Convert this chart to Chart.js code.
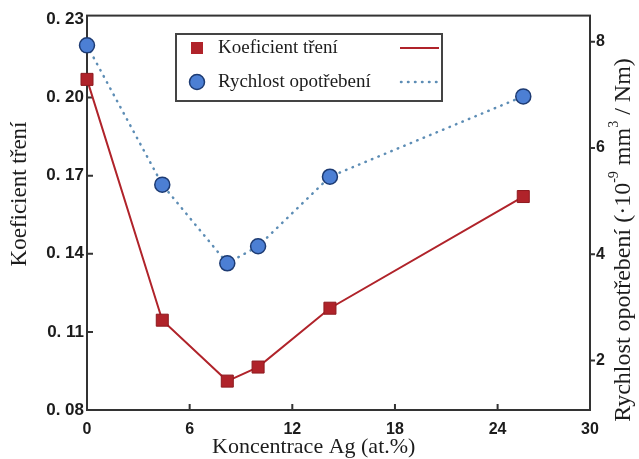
<!DOCTYPE html>
<html>
<head>
<meta charset="utf-8">
<script src="https://cdn.jsdelivr.net/npm/chart.js@4.4.0/dist/chart.umd.min.js"></script>
<style>
  html, body { margin: 0; padding: 0; background: #fff; }
  canvas { display: block; }
</style>
</head>
<body>
<canvas id="c" width="639" height="459"></canvas>
<script>
// Ag concentration (at.%) of the tested coatings
const agConcentration = [0, 4.4, 8.2, 10.0, 14.2, 25.5];
// Friction coefficient (left axis)
const frictionCoef = [0.207, 0.1145, 0.0911, 0.0965, 0.1191, 0.162];
// Wear rate, 10^-9 mm^3 / Nm (right axis)
const wearRate = [7.93, 5.31, 3.83, 4.15, 5.46, 6.97];

// Tick values / labels
const xTicks = [0, 6, 12, 18, 24, 30];
const frictionTicks = [0.08, 0.11, 0.14, 0.17, 0.20, 0.23];
const wearTicks = [2, 4, 6, 8];

const xMax = 29.4;
const frictionMin = 0.08, frictionMax = 0.2315;
const wearMin = 1.07, wearMax = 8.49;

const SERIF = "'Liberation Serif', 'Times New Roman', serif";
const SANS = "'Liberation Sans', Arial, sans-serif";
const tickFont = { family: SANS, size: 16, weight: 'bold' };
const INK = '#1c1c1c';

const RED = '#b0232a';
const BLUE_FILL = '#4c7fd4';
const BLUE_EDGE = '#1d3b73';
const BLUE_LINE = '#5d8db5';

// Frame and tick marks (left/bottom inward, right outward)
const framePlugin = {
  id: 'frame',
  beforeDatasetsDraw(chart) {
    const { ctx, chartArea: a, scales } = chart;
    ctx.save();
    ctx.strokeStyle = '#333';
    ctx.lineWidth = 2;
    ctx.strokeRect(a.left, a.top, a.right - a.left, a.bottom - a.top);
    ctx.beginPath();
    frictionTicks.forEach(v => {
      if (v <= frictionMin || v >= 0.23) return;
      const y = scales.y.getPixelForValue(v);
      ctx.moveTo(a.left, y); ctx.lineTo(a.left + 6, y);
    });
    xTicks.forEach(v => {
      if (v <= 0 || v >= xMax) return;
      const x = scales.x.getPixelForValue(v);
      ctx.moveTo(x, a.bottom); ctx.lineTo(x, a.bottom - 6);
    });
    wearTicks.forEach(v => {
      const y = scales.y1.getPixelForValue(v);
      ctx.moveTo(a.right, y); ctx.lineTo(a.right + 5, y);
    });
    ctx.stroke();
    ctx.restore();
  }
};

// Axis titles and the framed legend
const annotatePlugin = {
  id: 'annotate',
  afterDraw(chart) {
    const { ctx } = chart;
    ctx.save();
    ctx.fillStyle = INK;
    ctx.textBaseline = 'middle';

    // x title
    ctx.font = `22px ${SERIF}`;
    ctx.textAlign = 'left';
    ctx.fillText('Koncentrace Ag (at.%)', 212, 447);

    // left title
    ctx.save();
    ctx.translate(20, 194);
    ctx.rotate(-Math.PI / 2);
    ctx.textAlign = 'center';
    ctx.font = `23px ${SERIF}`;
    ctx.fillText('Koeficient tření', 0, 0);
    ctx.restore();

    // right title with superscripts
    const parts = [
      { t: 'Rychlost opotřebení (·10', sup: false },
      { t: '-9', sup: true },
      { t: ' mm', sup: false },
      { t: '3', sup: true },
      { t: ' / Nm)', sup: false }
    ];
    const big = `24px ${SERIF}`, small = `14px ${SERIF}`;
    let total = 0;
    parts.forEach(p => { ctx.font = p.sup ? small : big; p.w = ctx.measureText(p.t).width; total += p.w; });
    ctx.save();
    ctx.translate(624, 240);
    ctx.rotate(-Math.PI / 2);
    ctx.textAlign = 'left';
    let x = -total / 2;
    parts.forEach(p => {
      ctx.font = p.sup ? small : big;
      ctx.fillText(p.t, x, p.sup ? -10 : 0);
      x += p.w;
    });
    ctx.restore();

    // legend
    const bx = 176, by = 34, bw = 266, bh = 67;
    ctx.fillStyle = '#fff';
    ctx.fillRect(bx, by, bw, bh);
    ctx.strokeStyle = '#444';
    ctx.lineWidth = 2;
    ctx.strokeRect(bx, by, bw, bh);

    const ds = chart.data.datasets;
    const rows = [48, 82];
    // row 1: square marker, solid line
    ctx.fillStyle = RED;
    ctx.fillRect(197 - 6, rows[0] - 6, 12, 12);
    ctx.strokeStyle = RED;
    ctx.lineWidth = 2;
    ctx.beginPath(); ctx.moveTo(400, rows[0]); ctx.lineTo(439, rows[0]); ctx.stroke();
    // row 2: circle marker, dotted line
    ctx.beginPath();
    ctx.arc(197, rows[1], 7.5, 0, Math.PI * 2);
    ctx.fillStyle = BLUE_FILL; ctx.fill();
    ctx.strokeStyle = BLUE_EDGE; ctx.lineWidth = 1.5; ctx.stroke();
    ctx.strokeStyle = BLUE_LINE;
    ctx.lineWidth = 2.5;
    ctx.lineCap = 'round';
    ctx.setLineDash([0.5, 6.5]);
    ctx.beginPath(); ctx.moveTo(401, rows[1]); ctx.lineTo(439, rows[1]); ctx.stroke();
    ctx.setLineDash([]);

    ctx.fillStyle = INK;
    ctx.font = `19px ${SERIF}`;
    ctx.textAlign = 'left';
    ctx.fillText(ds[0].label, 218, rows[0]);
    ctx.fillText(ds[1].label, 218, rows[1]);
    ctx.restore();
  }
};

const frictionPoints = agConcentration.map((x, i) => ({ x, y: frictionCoef[i] }));
const wearPoints = agConcentration.map((x, i) => ({ x, y: wearRate[i] }));

new Chart(document.getElementById('c'), {
  type: 'line',
  data: {
    datasets: [
      {
        label: 'Koeficient tření',
        data: frictionPoints,
        yAxisID: 'y',
        borderColor: RED,
        borderWidth: 2,
        backgroundColor: RED,
        pointStyle: 'rect',
        pointRadius: 8.5,
        pointBorderColor: '#8e1a1f',
        pointBorderWidth: 1,
        tension: 0,
        clip: false,
        order: 1
      },
      {
        label: 'Rychlost opotřebení',
        data: wearPoints,
        yAxisID: 'y1',
        borderColor: BLUE_LINE,
        borderWidth: 2.5,
        borderDash: [0.5, 6.5],
        borderCapStyle: 'round',
        backgroundColor: BLUE_FILL,
        pointStyle: 'circle',
        pointRadius: 7.5,
        pointBorderColor: BLUE_EDGE,
        pointBorderWidth: 1.5,
        tension: 0,
        clip: false,
        order: 2
      }
    ]
  },
  options: {
    responsive: false,
    animation: false,
    events: [],
    layout: { padding: { top: 15, left: 0, right: 0, bottom: 0 } },
    plugins: { legend: { display: false }, tooltip: { enabled: false } },
    scales: {
      x: {
        type: 'linear',
        min: 0,
        max: xMax,
        grid: { display: false, drawTicks: false },
        border: { display: false },
        afterBuildTicks: s => { s.ticks = xTicks.map(v => ({ value: Math.min(v, xMax) })); },
        afterFit: s => { s.height = 49; },
        ticks: {
          autoSkip: false, maxRotation: 0, padding: 10,
          font: tickFont, color: INK,
          callback: (v, i) => String(xTicks[i])
        }
      },
      y: {
        type: 'linear',
        position: 'left',
        min: frictionMin,
        max: frictionMax,
        grid: { display: false, drawTicks: false },
        border: { display: false },
        afterBuildTicks: s => { s.ticks = frictionTicks.map(v => ({ value: v })); },
        afterFit: s => { s.width = 87; },
        ticks: {
          autoSkip: false, padding: 3,
          font: { family: SANS, size: 17, weight: 'bold' }, color: INK,
          callback: (v, i) => frictionTicks[i].toFixed(2).replace('.', '. ')
        }
      },
      y1: {
        type: 'linear',
        position: 'right',
        min: wearMin,
        max: wearMax,
        grid: { display: false, drawTicks: false },
        border: { display: false },
        afterBuildTicks: s => { s.ticks = wearTicks.map(v => ({ value: v })); },
        afterFit: s => { s.width = 49; },
        ticks: {
          autoSkip: false, padding: 6,
          font: tickFont, color: INK,
          callback: (v, i) => String(wearTicks[i])
        }
      }
    }
  },
  plugins: [framePlugin, annotatePlugin]
});
</script>
</body>
</html>
